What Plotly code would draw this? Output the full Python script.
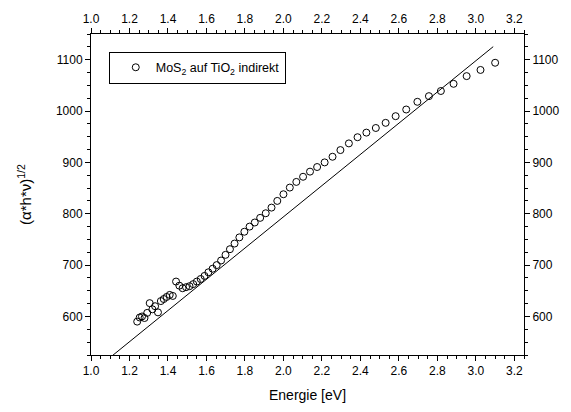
import plotly.graph_objects as go

# Photon energy (eV) and (alpha*h*nu)^(1/2) of the MoS2 film on TiO2
energy = [1.240, 1.253, 1.265, 1.278, 1.292, 1.305, 1.319, 1.333, 1.348, 1.363,
          1.378, 1.393, 1.409, 1.425, 1.442, 1.459, 1.476, 1.494, 1.512, 1.531,
          1.550, 1.570, 1.590, 1.610, 1.632, 1.653, 1.676, 1.699, 1.722, 1.746,
          1.771, 1.797, 1.824, 1.851, 1.879, 1.908, 1.938, 1.968, 2.000, 2.033,
          2.067, 2.102, 2.138, 2.175, 2.214, 2.255, 2.296, 2.340, 2.385, 2.431,
          2.480, 2.531, 2.583, 2.638, 2.696, 2.756, 2.818, 2.884, 2.952, 3.024,
          3.100]
sqrt_ahv = [590, 598, 600, 597, 607, 626, 614, 620, 608, 630,
            634, 638, 642, 640, 668, 660, 655, 657, 659, 663,
            668, 673, 679, 686, 693, 700, 709, 720, 731, 742,
            754, 765, 775, 783, 792, 801, 812, 825, 838, 851,
            862, 872, 882, 891, 900, 911, 924, 937, 949, 958,
            967, 977, 990, 1003, 1018, 1029, 1039, 1053, 1068, 1080,
            1094]

# Linear fit of the indirect transition
fit_slope = 304.0
fit_intercept = 186.0
fit_energy = [1.10, 3.09]
fit_values = [fit_intercept + fit_slope * e for e in fit_energy]

x_range = [1.0, 3.25]
y_range = [525, 1150]

series_name = "MoS<sub>2</sub> auf TiO<sub>2</sub> indirekt"
x_title = "Energie [eV]"
y_title = "(α*h*ν)<sup>1/2</sup>"

FONT = "Liberation Sans, Arial, sans-serif"

fig = go.Figure()
fig.add_trace(go.Scatter(
    x=energy, y=sqrt_ahv, mode="markers", name=series_name,
    marker=dict(symbol="circle-open", size=7, color="black",
                line=dict(width=1, color="black")),
))
fig.add_trace(go.Scatter(
    x=fit_energy, y=fit_values, mode="lines", showlegend=False,
    line=dict(color="black", width=1), xaxis="x2", yaxis="y2",
))

common = dict(
    showline=True, linecolor="black", linewidth=1, showgrid=False,
    zeroline=False, ticks="outside", ticklen=5, tickwidth=1,
    tickcolor="black", tickfont=dict(family=FONT, size=12, color="black"),
)
minor_x = dict(ticks="outside", ticklen=3, tickwidth=1, tickcolor="black", dtick=0.05)
minor_y = dict(ticks="outside", ticklen=3, tickwidth=1, tickcolor="black", dtick=25)

fig.update_layout(
    width=571, height=412,
    margin=dict(l=91, r=37, t=33, b=52),
    paper_bgcolor="white", plot_bgcolor="white",
    font=dict(family=FONT, color="black"),
    showlegend=True,
    legend=dict(x=0.041, y=0.945, xanchor="left", yanchor="top",
                bordercolor="black", borderwidth=1, bgcolor="white",
                indentation=6,
                font=dict(family=FONT, size=12.5, color="black")),
    xaxis=dict(range=x_range, dtick=0.2, tick0=1.0, tickformat=".1f",
               minor=minor_x, mirror=False,
               title=dict(text=x_title, font=dict(family=FONT, size=14), standoff=12),
               **common),
    yaxis=dict(range=y_range, dtick=100, tick0=600, minor=minor_y,
               title=dict(text=y_title, font=dict(family=FONT, size=15), standoff=20),
               **common),
    xaxis2=dict(range=x_range, dtick=0.2, tick0=1.0, tickformat=".1f",
                minor=minor_x, overlaying="x", side="top", **common),
    yaxis2=dict(range=y_range, dtick=100, tick0=600, minor=minor_y,
                overlaying="y", side="right", **common),
)

fig.write_html("out.html")
